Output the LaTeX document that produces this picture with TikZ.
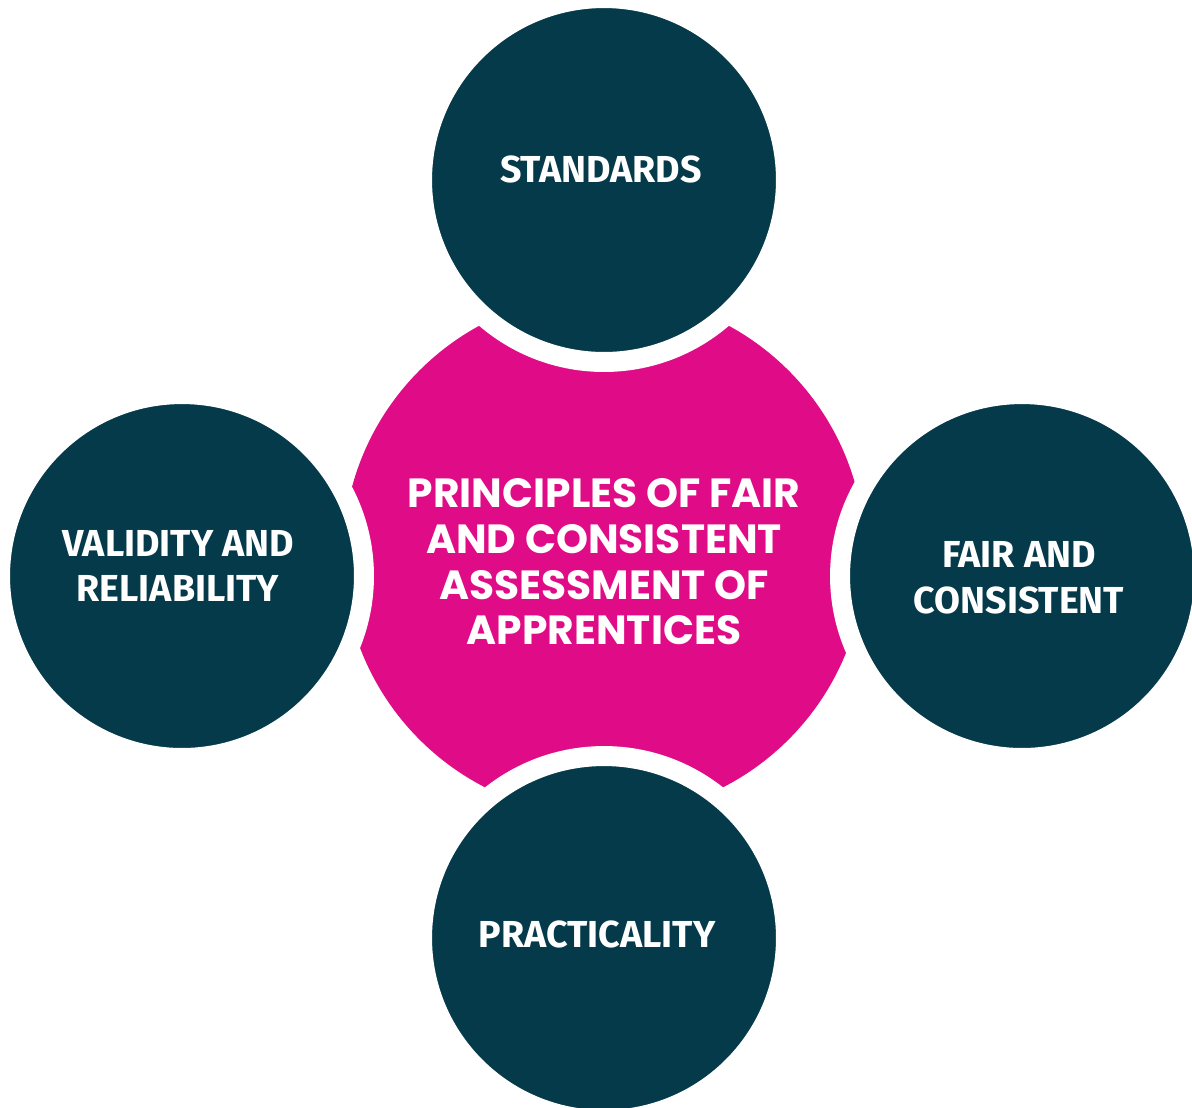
\documentclass[tikz,border=0pt]{standalone}
\usepackage{fontspec}
\setmainfont{Fira Sans}
\newfontfamily\titlefont{Poppins}
\usepackage{tikz}
\usetikzlibrary{positioning}
\definecolor{petrol}{HTML}{043A4A}
\definecolor{pink}{HTML}{E00B86}
\tikzstyle{core} = [circle, fill=pink, minimum size=10.44cm, inner sep=0pt]
\tikzstyle{principle} = [circle, fill=petrol, draw=white, line width=0.4cm, minimum size=7.28cm, inner sep=0pt]
\tikzstyle{coretext} = [text=white, align=center, font=\titlefont\bfseries\fontsize{23.2}{26}\selectfont]
\tikzstyle{principletext} = [text=white, align=center, font=\bfseries\fontsize{21.4}{26}\selectfont]

\begin{document}
\begin{tikzpicture}[x=0.02cm, y=0.02cm]
		\useasboundingbox (0,0) rectangle (1192,-1107);
		\clip (0,0) rectangle (1192,-1107);
		\node (Core) [core] at (604,-555) {};
		\node (Standards) [principle] at (604,-180) {};
		\node (Validity) [principle] at (182,-576) {};
		\node (Fair) [principle] at (1022,-576) {};
		\node (Practicality) [principle] at (604,-938) {};
		
		% labels sit a little off the circle centres
		\node (CoreText) [coretext, yshift=-0.14cm] at (Core) {PRINCIPLES OF FAIR\\AND CONSISTENT\\ASSESSMENT OF\\APPRENTICES};
		\node (StandardsText) [principletext, xshift=-0.06cm, yshift=0.22cm] at (Standards) {STANDARDS};
		\node (ValidityText) [principletext, xshift=-0.08cm, yshift=0.2cm] at (Validity) {VALIDITY AND\\RELIABILITY};
		\node (FairText) [principletext, xshift=-0.06cm, yshift=-0.04cm] at (Fair) {FAIR AND\\CONSISTENT};
		\node (PracticalityText) [principletext, xshift=-0.14cm, yshift=0.08cm] at (Practicality) {PRACTICALITY};
\end{tikzpicture}
\end{document}
